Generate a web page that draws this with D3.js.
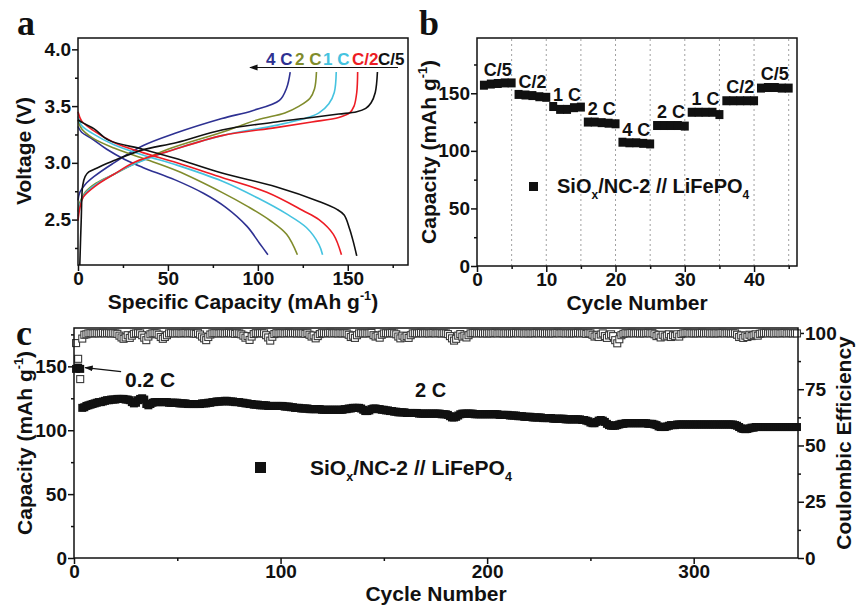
<!DOCTYPE html>
<meta charset="utf-8">
<style>
body { margin: 0; background: #fff; }
</style>
<svg width="857" height="606"></svg>
<script src="https://cdn.jsdelivr.net/npm/d3@7"></script>
<script>

// ---- panel a : charge / discharge profiles, [capacity mAh/g, voltage V]
var rateNames = ["C/5", "C/2", "1 C", "2 C", "4 C"];
var rateColors = ["#111111", "#ed1c24", "#45c3e0", "#808c2c", "#2e3192"];

var chargeC5 = [[1,2.1],[1.8,2.5],[2.6,2.8],[4,2.88],[6,2.92],[10,2.95],[20,3.02],[35,3.11],[55,3.18],[80,3.29],[110,3.36],[130,3.4],[145,3.43],[155,3.45],[160,3.48],[163,3.53],[165.3,3.62],[166.5,3.8]];
var chargeC2 = [[0,2.49],[1,2.6],[3,2.7],[10,2.8],[20,2.9],[32,3.01],[50,3.1],[80,3.24],[110,3.31],[130,3.36],[145,3.4],[151,3.44],[153.5,3.5],[155,3.62],[155.5,3.8]];
var charge1C = [[0,2.53],[1,2.63],[4,2.73],[10,2.81],[20,2.9],[30,2.98],[50,3.1],[80,3.24],[110,3.33],[126,3.39],[134,3.44],[139.5,3.52],[142.5,3.62],[143.6,3.8]];
var charge2C = [[0,2.57],[1,2.65],[4,2.74],[10,2.82],[20,2.9],[30,2.98],[50,3.12],[80,3.27],[100,3.38],[115,3.44],[123,3.5],[129,3.57],[131.5,3.65],[132.6,3.8]];
var charge4C = [[0,2.67],[1,2.74],[4,2.81],[9,2.88],[19,2.99],[36,3.15],[54,3.26],[80,3.39],[97,3.46],[112,3.55],[116,3.66],[118,3.8]];

var dischargeC5 = [[0,3.38],[3,3.35],[9,3.3],[17,3.2],[36,3.12],[54,3.04],[80,2.91],[110,2.79],[134,2.66],[144,2.59],[148,2.54],[151,2.42],[153,2.31],[155,2.18]];
var dischargeC2 = [[0,3.45],[2,3.37],[8,3.29],[20,3.18],[36,3.09],[55,3.0],[80,2.87],[105,2.74],[125,2.58],[134,2.5],[142,2.37],[146.5,2.19]];
var discharge1C = [[0,3.41],[2,3.33],[8,3.26],[20,3.16],[36,3.07],[55,2.98],[80,2.84],[100,2.69],[116,2.55],[127,2.43],[134,2.28],[136,2.19]];
var discharge2C = [[0,3.38],[2,3.3],[8,3.22],[20,3.13],[36,3.04],[55,2.93],[80,2.74],[95,2.61],[107,2.49],[116,2.37],[122,2.19]];
var discharge4C = [[0,3.32],[2,3.27],[8,3.21],[16,3.12],[26,3.03],[36,2.96],[54,2.85],[70,2.73],[82,2.61],[94,2.44],[101,2.29],[105.6,2.19]];

// ---- panel b : rate capability, 5 cycles per step
var rateSteps = ["C/5", "C/2", "1 C", "2 C", "4 C", "2 C", "1 C", "C/2", "C/5"];
var rateCapacity = [
  157, 158, 158.5, 159, 159,
  149, 148.5, 148, 147, 146.5,
  138.5, 136, 136, 137.5, 138,
  125, 125, 124.5, 124, 123.5,
  107.5, 107, 107, 106.5, 106,
  122, 122, 122, 122, 121.5,
  133.5, 133.5, 133.5, 133.5, 131.5,
  143.5, 143.5, 143.5, 143.5, 143.5,
  154.5, 155, 155, 154.5, 154.5
];

// ---- panel c : long cycling, one value per cycle (1..350)
var longCapacity = [
  148, 149, 148, 117.5, 118, 119, 119.5, 120, 120.5, 121,
  121.5, 122, 122, 122.5, 123, 123.5, 123.5, 124, 124, 124,
  124.5, 124.5, 124.5, 124.5, 124, 124, 123.5, 122, 121, 121.5,
  123.5, 124.5, 125, 124, 120.5, 119.5, 120.5, 121.5, 122, 122,
  122, 122, 122, 122, 122, 121.5, 121.5, 121.5, 121.5, 121.5,
  121, 121, 121, 121, 120.5, 120.5, 120.5, 120.5, 120.5, 120.5,
  120.5, 121, 121, 121, 121.5, 121.5, 122, 122, 122.5, 122.5,
  122.5, 122.5, 123, 123, 122.5, 122.5, 122.5, 122, 122, 122,
  121.5, 121.5, 121, 121, 120.5, 120.5, 120, 120, 120, 119.5,
  119.5, 119.5, 119.5, 119, 119, 119, 119, 119, 119, 119,
  119, 118.5, 118.5, 118.5, 118, 118, 117.5, 117.5, 117.5, 117,
  117, 117, 117, 116.5, 116.5, 116.5, 116.5, 116.5, 116.5, 116,
  116, 116, 116, 116, 116, 116, 116, 116, 116, 116,
  116.5, 116.5, 117, 117, 117.5, 117.5, 117.5, 117.5, 117, 116,
  115, 115, 115.5, 116.5, 117, 117, 116.5, 116.5, 116, 116,
  115.5, 115.5, 115, 115, 114.5, 114.5, 114, 114, 114, 114,
  113.5, 113.5, 113.5, 113.5, 113.5, 113.5, 113, 113, 113, 113,
  113, 113, 113, 113, 113, 113, 113, 112.5, 112.5, 112.5,
  112, 111, 110, 110, 110.5, 111.5, 112.5, 113, 113, 113,
  113, 113, 113, 112.5, 112.5, 112.5, 112.5, 112.5, 112.5, 112.5,
  112.5, 112.5, 112.5, 112.5, 112.5, 112, 112, 112, 112, 112,
  111.5, 111.5, 111.5, 111.5, 111, 111, 111, 110.5, 110.5, 110.5,
  110.5, 110, 110, 110, 110, 110, 109.5, 109.5, 109.5, 109.5,
  109.5, 109, 109, 109, 109, 109, 109, 108.5, 108.5, 108.5,
  108.5, 108.5, 108.5, 108.5, 108.5, 108, 108, 107.5, 107, 106,
  105.5, 105.5, 106.5, 107.5, 108, 107.5, 106.5, 105, 104, 103.5,
  103.5, 103.5, 104, 104.5, 105, 105, 105.5, 105.5, 105.5, 105.5,
  105.5, 105.5, 105.5, 105.5, 105.5, 105.5, 105.5, 105, 105, 105,
  104.5, 104, 103, 102.5, 102.5, 102.5, 103, 103.5, 104, 104,
  104, 104.5, 104.5, 104.5, 104.5, 104.5, 104.5, 104.5, 104.5, 104.5,
  104.5, 104.5, 104.5, 104.5, 104.5, 104.5, 104.5, 104.5, 104.5, 104.5,
  104.5, 104.5, 104.5, 104.5, 104.5, 104.5, 104.5, 104.5, 104.5, 104,
  103.5, 102.5, 101.5, 101, 100.8, 101, 101.5, 102, 102, 102.5,
  102.5, 102.5, 102.5, 102.5, 102.5, 102.5, 102.5, 102.5, 102.5, 102.5,
  102.5, 102.5, 102.5, 102.5, 102.5, 102.5, 102.5, 102.5, 102.5, 102.5
];

var longEfficiency = [
  95.5, 88.5, 79.5, 97.5, 99.2, 99.4, 99.8, 99.9, 99.8, 99.9,
  99.9, 99.8, 99.9, 100, 99.8, 99.9, 99.9, 99.8, 99.9, 99.8,
  99.6, 98.8, 98.0, 97.4, 98.0, 99.0, 97.8, 98.8, 99.6, 99.8,
  99.9, 99.8, 99.0, 97.9, 96.8, 98.4, 99.4, 99.8, 99.9, 99.8,
  99.2, 98.2, 97.4, 98.2, 99.0, 99.8, 99.9, 99.9, 99.8, 99.9,
  99.9, 99.8, 99.9, 100, 99.8, 99.9, 99.9, 99.8, 99.6, 99.9,
  99.3, 98.4, 97.6, 96.8, 98.2, 99.3, 99.8, 99.9, 99.9, 99.8,
  99.9, 99.9, 99.8, 99.9, 100, 99.8, 99.9, 99.6, 99.9, 99.8,
  99.4, 98.8, 97.9, 98.6, 96.9, 98.4, 99.5, 99.9, 99.8, 99.9,
  99.9, 99.8, 99.0, 98.0, 96.6, 98.3, 99.5, 99.9, 99.8, 99.9,
  99.9, 99.8, 99.9, 100, 99.8, 99.9, 99.9, 99.8, 99.9, 99.8,
  99.9, 99.6, 99.9, 99.2, 98.4, 98.9, 97.6, 98.6, 99.5, 99.9,
  99.9, 99.8, 99.9, 100, 99.8, 99.9, 99.9, 99.8, 99.9, 99.8,
  99.9, 99.8, 99.2, 98.2, 98.8, 97.8, 99.0, 99.8, 99.9, 99.8,
  99.9, 99.8, 99.9, 100, 99.0, 98.4, 98.8, 97.9, 99.2, 99.8,
  99.9, 99.8, 99.9, 100, 99.8, 99.4, 98.4, 97.6, 98.8, 98.0,
  98.6, 97.8, 99.0, 99.8, 99.9, 99.8, 99.9, 100, 99.8, 99.9,
  99.9, 99.8, 99.9, 100, 99.8, 99.9, 99.9, 99.8, 99.9, 99.8,
  99.5, 98.6, 97.6, 96.6, 97.4, 98.8, 99.5, 98.4, 98.8, 98.0,
  99.0, 99.8, 99.9, 100, 99.8, 99.9, 99.9, 99.8, 99.9, 99.8,
  99.9, 99.8, 99.9, 100, 99.8, 99.9, 99.9, 99.8, 99.9, 99.8,
  99.9, 99.8, 99.9, 100, 99.8, 99.9, 99.9, 99.8, 99.9, 99.8,
  99.9, 99.8, 99.9, 100, 99.8, 99.9, 99.9, 99.8, 99.9, 99.8,
  99.9, 99.8, 99.9, 100, 99.8, 99.9, 99.9, 99.8, 99.9, 99.8,
  99.9, 99.8, 99.9, 100, 99.8, 99.9, 99.9, 99.6, 99.9, 99.8,
  99.2, 98.4, 98.9, 98.2, 99.3, 99.8, 98.6, 97.8, 98.9, 99.4,
  98.6, 96.8, 95.4, 97.2, 99.0, 99.6, 99.9, 99.8, 99.9, 100,
  99.8, 99.9, 99.9, 99.8, 99.9, 99.8, 99.9, 100, 99.8, 99.9,
  99.4, 98.6, 99.0, 98.0, 99.2, 98.4, 98.8, 99.4, 98.2, 99.0,
  98.6, 99.4, 98.4, 99.5, 99.8, 99.9, 100, 99.8, 99.9, 99.8,
  99.9, 99.8, 99.9, 100, 99.8, 99.9, 99.9, 99.8, 99.9, 99.8,
  99.9, 99.8, 99.9, 100, 99.8, 99.9, 99.9, 99.8, 99.9, 99.8,
  99.2, 98.2, 98.9, 97.8, 98.8, 98.2, 99.2, 98.6, 99.0, 99.4,
  98.8, 99.6, 99.8, 99.9, 100, 99.8, 99.9, 99.9, 99.8, 99.9,
  99.9, 99.8, 99.9, 100, 99.8, 99.9, 99.9, 99.8, 99.9, 99.8
];

var svg = d3.select("svg");
var font = '"Liberation Sans", Arial, sans-serif';
var ink = "#111";

// axis with major labelled ticks + small unlabelled minor ticks
function axis(gen, scale, major, minor, fmt, tx, ty) {
  var gMinor = svg.append("g").attr("transform", "translate(" + tx + "," + ty + ")")
    .call(gen(scale).tickValues(minor).tickSize(3).tickFormat(""));
  var gMajor = svg.append("g").attr("transform", "translate(" + tx + "," + ty + ")")
    .call(gen(scale).tickValues(major).tickSize(6).tickPadding(1).tickFormat(fmt));
  [gMinor, gMajor].forEach(function(g) {
    g.select(".domain").remove();
    g.selectAll("line").attr("stroke", ink).attr("stroke-width", 1.5);
  });
  gMajor.attr("font-size", 19).attr("font-family", font).attr("font-weight", "bold");
  gMajor.selectAll("text").attr("fill", ink);
  return gMajor;
}

function frame(x, y) {
  svg.append("rect")
    .attr("x", x.range()[0]).attr("y", y.range()[1])
    .attr("width", x.range()[1] - x.range()[0])
    .attr("height", y.range()[0] - y.range()[1])
    .attr("fill", "none").attr("stroke", ink).attr("stroke-width", 1.5);
}

// text with super/subscript parts: ["text", "sup"|"sub"]
function rich(x, y, size, parts, anchor, rotate) {
  var t = svg.append("text")
    .attr("x", x).attr("y", y)
    .attr("font-size", size).attr("font-weight", "bold").attr("font-family", font)
    .attr("fill", ink).attr("text-anchor", anchor || "middle");
  if (rotate) t.attr("transform", "rotate(-90," + x + "," + y + ")");
  var off = 0;
  parts.forEach(function(p) {
    var s = typeof p === "string" ? p : p[0];
    var k = typeof p === "string" ? null : p[1];
    var target = k === "sup" ? -0.42 * size : (k === "sub" ? 0.3 * size : 0);
    t.append("tspan").attr("dy", target - off).attr("font-size", k ? size * 0.6 : size).text(s);
    off = target;
  });
  return t;
}

function panelLetter(x, y, s) {
  svg.append("text").attr("x", x).attr("y", y).text(s)
    .attr("font-family", '"Liberation Serif", "Times New Roman", serif')
    .attr("font-weight", "bold").attr("font-size", 36).attr("fill", ink);
}

svg.append("defs").append("marker")
  .attr("id", "arrow").attr("viewBox", "0 0 10 10")
  .attr("refX", 9).attr("refY", 5)
  .attr("markerWidth", 7).attr("markerHeight", 7)
  .attr("orient", "auto-start-reverse")
  .append("path").attr("d", "M0,1.5 L10,5 L0,8.5 z").attr("fill", ink);

// ================= panel a =================
var ax = d3.scaleLinear().domain([0, 183.5]).range([78, 408]);
var ay = d3.scaleLinear().domain([2.1, 4.1]).range([265, 38]);

axis(d3.axisBottom, ax, [0, 50, 100, 150], [25, 75, 125, 175], d3.format("d"), 0, 265);
axis(d3.axisLeft, ay, [2.5, 3.0, 3.5, 4.0], [2.25, 2.75, 3.25, 3.75], d3.format(".1f"), 78, 0);

var curve = d3.line()
  .x(function(d) { return ax(d[0]); })
  .y(function(d) { return ay(d[1]); })
  .curve(d3.curveCatmullRom.alpha(0.5));

var charges = [chargeC5, chargeC2, charge1C, charge2C, charge4C];
var discharges = [dischargeC5, dischargeC2, discharge1C, discharge2C, discharge4C];

for (var i = rateNames.length - 1; i >= 0; i--) {
  [charges[i], discharges[i]].forEach(function(pts) {
    svg.append("path").attr("d", curve(pts))
      .attr("fill", "none").attr("stroke", rateColors[i]).attr("stroke-width", 1.6);
  });
}
frame(ax, ay);

// legend arrow with rate labels
svg.append("line").attr("x1", 398).attr("y1", 67.5).attr("x2", 250).attr("y2", 67.5)
  .attr("stroke", ink).attr("stroke-width", 1.2).attr("marker-end", "url(#arrow)");
var legendX = [378, 352, 323, 295, 266];
rateNames.forEach(function(name, i) {
  svg.append("text").attr("x", legendX[i]).attr("y", 65).text(name)
    .attr("font-family", font).attr("font-weight", "bold").attr("font-size", 17)
    .attr("fill", rateColors[i]);
});

rich(243, 309, 21, ["Specific Capacity (mAh g", ["-1", "sup"], ")"]);
rich(31, 151, 21, ["Voltage (V)"], "middle", true);
panelLetter(17, 35, "a");

// ================= panel b =================
var bx = d3.scaleLinear().domain([0, 46.2]).range([477, 797]);
var by = d3.scaleLinear().domain([0, 198]).range([266, 38]);

d3.range(5, 46, 5).forEach(function(c) {
  svg.append("line").attr("x1", bx(c)).attr("x2", bx(c)).attr("y1", by(0)).attr("y2", by(198))
    .attr("stroke", "#a0a0a0").attr("stroke-width", 1).attr("stroke-dasharray", "2,3");
});

axis(d3.axisBottom, bx, [0, 10, 20, 30, 40], [5, 15, 25, 35, 45], d3.format("d"), 0, 266);
axis(d3.axisLeft, by, [0, 50, 100, 150], [25, 75, 125, 175], d3.format("d"), 477, 0);

svg.append("g").selectAll("rect").data(rateCapacity).enter().append("rect")
  .attr("x", function(d, i) { return bx(i + 1) - 4; })
  .attr("y", function(d) { return by(d) - 4.5; })
  .attr("width", 8).attr("height", 9).attr("fill", ink);

rateSteps.forEach(function(name, k) {
  var grp = rateCapacity.slice(k * 5, k * 5 + 5);
  svg.append("text").attr("x", bx(k * 5 + 3)).attr("y", by(d3.mean(grp)) - 7.5)
    .attr("text-anchor", "middle").text(name)
    .attr("font-family", font).attr("font-weight", "bold").attr("font-size", 18).attr("fill", ink);
});
frame(bx, by);

svg.append("rect").attr("x", 529).attr("y", 182).attr("width", 9).attr("height", 9).attr("fill", ink);
rich(557, 193, 20, ["SiO", ["x", "sub"], "/NC-2 // LiFePO", ["4", "sub"]], "start");

rich(637, 310, 21, ["Cycle Number"]);
rich(436, 152, 21, ["Capacity (mAh g", ["-1", "sup"], ")"], "middle", true);
panelLetter(419, 35, "b");

// ================= panel c =================
var cx = d3.scaleLinear().domain([0, 350.5]).range([74, 798]);
var cyL = d3.scaleLinear().domain([0, 180]).range([558, 328]);
var cyR = d3.scaleLinear().domain([0, 102.2]).range([558, 328]);

axis(d3.axisBottom, cx, [0, 100, 200, 300], [50, 150, 250], d3.format("d"), 0, 558);
axis(d3.axisLeft, cyL, [0, 50, 100, 150], [25, 75, 125, 175], d3.format("d"), 74, 0);
axis(d3.axisRight, cyR, [0, 25, 50, 75, 100], [12.5, 37.5, 62.5, 87.5], d3.format("d"), 798, 0);

svg.append("g").selectAll("rect").data(longEfficiency).enter().append("rect")
  .attr("x", function(d, i) { return cx(i + 1) - 3.5; })
  .attr("y", function(d) { return cyR(d) - 3.5; })
  .attr("width", 7).attr("height", 7)
  .attr("fill", "#fff").attr("stroke", "#3a3a3a").attr("stroke-width", 1.1);

svg.append("g").selectAll("rect").data(longCapacity).enter().append("rect")
  .attr("x", function(d, i) { return cx(i + 1) - 4; })
  .attr("y", function(d) { return cyL(d) - 4; })
  .attr("width", 8).attr("height", 8).attr("fill", ink);

frame(cx, cyL);

// 0.2 C annotation pointing at the first cycles
var tip = [cx(2) + 7, cyL(longCapacity[1])];
svg.append("line").attr("x1", tip[0] + 36).attr("y1", tip[1] + 4).attr("x2", tip[0]).attr("y2", tip[1])
  .attr("stroke", ink).attr("stroke-width", 1.2).attr("marker-end", "url(#arrow)");
rich(125, 387, 21, ["0.2 C"], "start");
rich(415, 397, 20, ["2 C"], "start");

svg.append("rect").attr("x", 255).attr("y", 462).attr("width", 11).attr("height", 11).attr("fill", ink);
rich(310, 475, 21, ["SiO", ["x", "sub"], "/NC-2 // LiFePO", ["4", "sub"]], "start");

rich(436, 601, 21, ["Cycle Number"]);
rich(32, 443, 21, ["Capacity (mAh g", ["-1", "sup"], ")"], "middle", true);
rich(851, 443, 21, ["Coulombic Efficiency"], "middle", true);
panelLetter(16, 345, "c");

</script>
